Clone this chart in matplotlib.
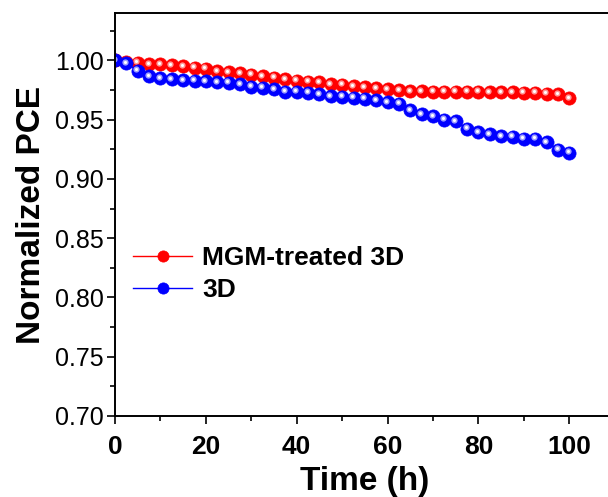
import matplotlib.pyplot as plt
from matplotlib.ticker import MultipleLocator
from matplotlib.transforms import offset_copy

plt.rcParams['font.family'] = ['Liberation Sans', 'DejaVu Sans']

# === Dati ===
tempo = [2.5 * i for i in range(41)]

pce_mgm = [1.000, 0.999, 0.998, 0.997, 0.9966, 0.9958, 0.9952, 0.9938, 0.993, 0.991,
           0.990, 0.989, 0.988, 0.9867, 0.9854, 0.984, 0.983, 0.982, 0.9814, 0.980,
           0.9795, 0.978, 0.9775, 0.9766, 0.9758, 0.975, 0.974, 0.9738, 0.9735, 0.9735,
           0.9735, 0.9735, 0.9735, 0.9732, 0.9732, 0.9732, 0.9727, 0.9727, 0.972, 0.9715,
           0.968]

pce_3d = [1.000, 0.9975, 0.9913, 0.9867, 0.9848, 0.984, 0.9834, 0.983, 0.9825, 0.9817,
          0.9811, 0.9797, 0.9778, 0.977, 0.9755, 0.9735, 0.9735, 0.9727, 0.9715, 0.970,
          0.9693, 0.9685, 0.9676, 0.9664, 0.965, 0.9634, 0.958, 0.9544, 0.953, 0.9501,
          0.9487, 0.9423, 0.9394, 0.9375, 0.936, 0.9355, 0.9338, 0.9338, 0.931, 0.9248,
          0.922]

serie = [("MGM-treated 3D", pce_mgm, '#ff0000', '#ff9a9a'),
         ("3D", pce_3d, '#0000ff', '#a0a0ff')]

# === Grafico ===
fig = plt.figure(figsize=(6.08, 4.97), dpi=100)
ax = fig.add_axes([115 / 608, 81 / 497, 110 * 4.543 / 608, 403 / 497])

luce = offset_copy(ax.transData, fig=fig, x=-1.0, y=1.0, units='points')
for nome, valori, colore, chiaro in serie:
    ax.plot(tempo, valori, '-o', color=colore, lw=1.0, ms=9.5,
            mec=colore, mew=0.5, label=nome)
    ax.plot(tempo, valori, 'o', color=chiaro, ms=4.5, mew=0, transform=luce)
    ax.plot(tempo, valori, 'o', color='white', ms=2.2, mew=0, transform=luce)

ax.set_xlim(0, 110)
ax.set_ylim(0.70, 1.04)
ax.xaxis.set_major_locator(MultipleLocator(20))
ax.xaxis.set_minor_locator(MultipleLocator(10))
ax.yaxis.set_major_locator(MultipleLocator(0.05))
ax.yaxis.set_minor_locator(MultipleLocator(0.025))
ax.yaxis.set_major_formatter(plt.FormatStrFormatter('%.2f'))

ax.tick_params(which='major', direction='out', length=6, width=1.2)
ax.tick_params(which='minor', direction='out', length=3.5, width=1.2)
ax.tick_params(axis='y', labelsize=18, pad=2)
ax.tick_params(axis='x', labelsize=19, pad=7.5)
for lab in ax.get_xticklabels():
    lab.set_fontweight('bold')
for s in ax.spines.values():
    s.set_linewidth(1.4)

ax.set_xlabel("Time (h)", fontsize=24, fontweight='bold', labelpad=5)
ax.set_ylabel("Normalized PCE", fontsize=24, fontweight='bold', labelpad=6)

ax.legend(loc='center left', bbox_to_anchor=(0.036, 0.352), frameon=False,
          prop={'weight': 'bold', 'size': 19}, handlelength=2.24,
          handletextpad=0.37, labelspacing=0.32, borderpad=0, borderaxespad=0,
          markerscale=0.85)

fig.savefig("out.png", dpi=100)
